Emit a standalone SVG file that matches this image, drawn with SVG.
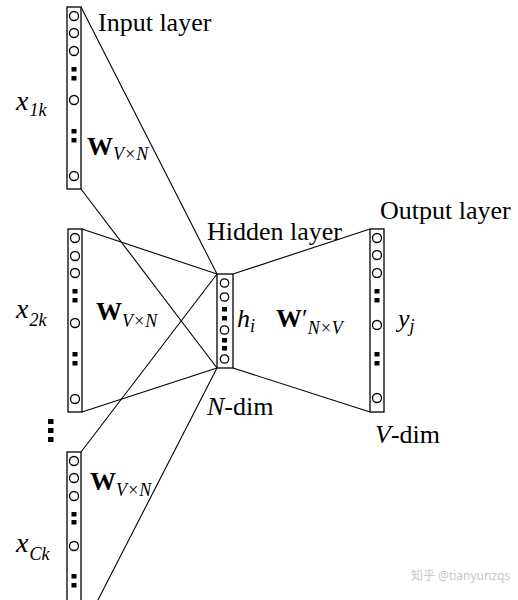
<svg xmlns="http://www.w3.org/2000/svg" width="518" height="600" viewBox="0 0 518 600">
<defs>
<style>
.box{fill:#fff;stroke:#000;stroke-width:1.3}
.c{fill:none;stroke:#000;stroke-width:1.3}
.sq{fill:#000}
.ln{stroke:#000;stroke-width:1.1;fill:none}
.t{font-family:"Liberation Serif","Times New Roman",serif;font-size:26px;fill:#000}
.it{font-style:italic}
.bw{font-family:"Liberation Serif","Times New Roman",serif;font-size:26px;font-weight:bold;fill:#000}
.sub{font-family:"Liberation Serif","Times New Roman",serif;font-size:18px;font-style:italic;fill:#000}
.wm{font-family:"Noto Sans","Noto Sans CJK SC",sans-serif;font-size:12px;fill:#c8c8c8}
</style>
</defs>
<rect width="518" height="600" fill="#fff"/>
<g id="connectors">
<line class="ln" x1="81" y1="7" x2="217" y2="274"/>
<line class="ln" x1="81" y1="189" x2="217" y2="368"/>
<line class="ln" x1="82" y1="229" x2="217" y2="274"/>
<line class="ln" x1="82" y1="412" x2="217" y2="368"/>
<line class="ln" x1="81" y1="452" x2="217" y2="274"/>
<line class="ln" x1="81" y1="633" x2="217" y2="368"/>
<line class="ln" x1="233" y1="274" x2="370" y2="229"/>
<line class="ln" x1="233" y1="368" x2="370" y2="412"/>
</g>
<g id="input1">
<rect class="box" x="67" y="7" width="14" height="182"/>
<circle class="c" cx="74" cy="16" r="4.5"/>
<circle class="c" cx="74" cy="33" r="4.5"/>
<circle class="c" cx="74" cy="51" r="4.5"/>
<rect class="sq" x="71.5" y="67" width="5" height="4.5"/>
<rect class="sq" x="71.5" y="76" width="5" height="4.5"/>
<circle class="c" cx="74" cy="100" r="4.5"/>
<rect class="sq" x="71.5" y="129" width="5" height="4.5"/>
<rect class="sq" x="71.5" y="138" width="5" height="4.5"/>
<circle class="c" cx="74" cy="176" r="4.5"/>
</g>
<g id="input2">
<rect class="box" x="68" y="229" width="14" height="183"/>
<circle class="c" cx="75" cy="238" r="4.5"/>
<circle class="c" cx="75" cy="256" r="4.5"/>
<circle class="c" cx="75" cy="273" r="4.5"/>
<rect class="sq" x="72.5" y="289" width="5" height="4.5"/>
<rect class="sq" x="72.5" y="298" width="5" height="4.5"/>
<circle class="c" cx="75" cy="323" r="4.5"/>
<rect class="sq" x="72.5" y="352" width="5" height="4.5"/>
<rect class="sq" x="72.5" y="361" width="5" height="4.5"/>
<circle class="c" cx="75" cy="399" r="4.5"/>
</g>
<g id="input3">
<rect class="box" x="67" y="452" width="14" height="182"/>
<circle class="c" cx="74" cy="461" r="4.5"/>
<circle class="c" cx="74" cy="478" r="4.5"/>
<circle class="c" cx="74" cy="496" r="4.5"/>
<rect class="sq" x="71.5" y="512" width="5" height="4.5"/>
<rect class="sq" x="71.5" y="520" width="5" height="4.5"/>
<circle class="c" cx="74" cy="546" r="4.5"/>
<rect class="sq" x="71.5" y="574" width="5" height="4.5"/>
<rect class="sq" x="71.5" y="583" width="5" height="4.5"/>
</g>
<g id="ellipsis">
<rect class="sq" x="48" y="419" width="5.5" height="5"/>
<rect class="sq" x="48" y="428" width="5.5" height="5"/>
<rect class="sq" x="48" y="437" width="5.5" height="5"/>
</g>
<g id="hidden">
<rect class="box" x="217" y="274" width="16" height="94"/>
<circle class="c" cx="224.5" cy="283" r="4.2"/>
<circle class="c" cx="224.5" cy="297" r="4.2"/>
<rect class="sq" x="222" y="307" width="5" height="4.5"/>
<rect class="sq" x="222" y="316" width="5" height="4.5"/>
<circle class="c" cx="224.5" cy="330" r="4.2"/>
<rect class="sq" x="222" y="338" width="5" height="4.5"/>
<rect class="sq" x="222" y="346" width="5" height="4.5"/>
<circle class="c" cx="224.5" cy="359" r="4.2"/>
</g>
<g id="output">
<rect class="box" x="370" y="229" width="14" height="183"/>
<circle class="c" cx="377" cy="238" r="4.5"/>
<circle class="c" cx="377" cy="255" r="4.5"/>
<circle class="c" cx="377" cy="273" r="4.5"/>
<rect class="sq" x="374.5" y="289" width="5" height="4.5"/>
<rect class="sq" x="374.5" y="298" width="5" height="4.5"/>
<circle class="c" cx="377" cy="325" r="4.5"/>
<rect class="sq" x="374.5" y="352" width="5" height="4.5"/>
<rect class="sq" x="374.5" y="361" width="5" height="4.5"/>
<circle class="c" cx="377" cy="398" r="4.5"/>
</g>
<g id="labels">
<text class="t" x="98" y="31">Input layer</text>
<text class="t" x="207" y="240">Hidden layer</text>
<text class="t" x="380" y="219">Output layer</text>
<text class="t" x="16" y="110"><tspan class="it" font-size="28">x</tspan><tspan class="it" font-size="18" dx="1" dy="6">1k</tspan></text>
<text class="t" x="16" y="318"><tspan class="it" font-size="28">x</tspan><tspan class="it" font-size="18" dx="1" dy="8">2k</tspan></text>
<text class="t" x="16" y="552"><tspan class="it" font-size="28">x</tspan><tspan class="it" font-size="18" dx="1" dy="8">Ck</tspan></text>
<text x="87" y="155"><tspan class="bw">W</tspan><tspan class="sub" dy="5">V×N</tspan></text>
<text x="96" y="320"><tspan class="bw">W</tspan><tspan class="sub" dy="7">V×N</tspan></text>
<text x="90" y="490"><tspan class="bw">W</tspan><tspan class="sub" dy="6">V×N</tspan></text>
<text x="276" y="327"><tspan class="bw">W</tspan><tspan class="t">′</tspan><tspan class="sub" dy="7">N×V</tspan></text>
<text class="t" x="237" y="327"><tspan class="it">h</tspan><tspan class="it" font-size="18" dy="5">i</tspan></text>
<text class="t" x="398" y="327"><tspan class="it">y</tspan><tspan class="it" font-size="18" dy="5">j</tspan></text>
<text class="t" x="207" y="415"><tspan class="it">N</tspan>-dim</text>
<text class="t" x="375" y="443"><tspan class="it">V</tspan>-dim</text>
<text class="wm" x="411" y="580">知乎 @tianyunzqs</text>
</g>
</svg>
